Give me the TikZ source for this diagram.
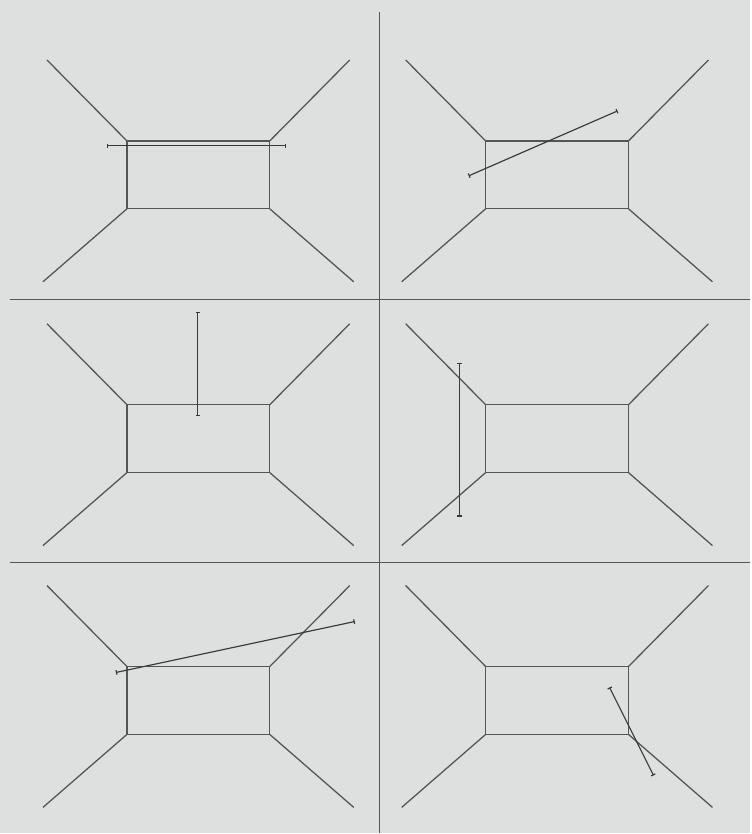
\documentclass[tikz,border=0pt]{standalone}
\usetikzlibrary{arrows.meta}
\definecolor{bg}{HTML}{DEE0DF}
\definecolor{ink}{HTML}{555555}
\definecolor{rodink}{HTML}{3A3A3A}

\begin{document}
\begin{tikzpicture}[x=0.03cm, y=-0.03cm,
	room/.style={draw=ink, line width=1.1pt},
	rod/.style={draw=rodink, line width=1pt, {Bar[width=4pt,line width=1pt]}-{Bar[width=4pt,line width=1pt]}}]
	\fill[bg] (0,0) rectangle (751,834);
	% dividers
	\draw[room] (380,12) -- (380,834);
	\draw[room] (10,300) -- (751,300);
	\draw[room] (10,563) -- (751,563);
	% six rooms
	\foreach \dx/\dy in {0/0, 359/0, 0/264, 359/264, 0/526, 359/526} {
		\begin{scope}[shift={(\dx,\dy)}]
			\draw[room] (127,141) rectangle (270,209);
			\draw[room] (47,60) -- (127,141);
			\draw[room] (350,60) -- (270,141);
			\draw[room] (43,282) -- (127,209);
			\draw[room] (354,282) -- (270,209);
		\end{scope}
	}
	% rods
	\coordinate (a1) at (107,146); \coordinate (a2) at (286,146);
	\coordinate (b1) at (469,176); \coordinate (b2) at (618,111);
	\coordinate (c1) at (198,312); \coordinate (c2) at (198,416);
	\coordinate (d1) at (460,363); \coordinate (d2) at (460,517);
	\coordinate (e1) at (116,673); \coordinate (e2) at (355,622);
	\coordinate (f1) at (610,688); \coordinate (f2) at (654,776);
	\draw[rod] (a1) -- (a2);
	\draw[rod] (b1) -- (b2);
	\draw[rod] (c1) -- (c2);
	\draw[rod] (d1) -- (d2);
	\draw[rod] (e1) -- (e2);
	\draw[rod] (f1) -- (f2);
\end{tikzpicture}
\end{document}
